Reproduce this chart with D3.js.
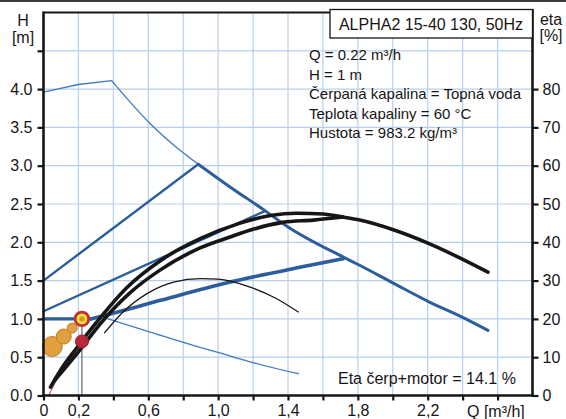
<!DOCTYPE html>
<html><head><meta charset="utf-8">
<script src="https://cdn.jsdelivr.net/npm/d3@7"></script>
<style>body{margin:0;background:#fff}svg{display:block;font-family:"Liberation Sans",Arial,sans-serif}</style>
</head><body><svg id="c" width="566" height="419"></svg>
<script>
// ---- data (Q in m3/h, H in m, eta in %) ----
const qGridTicks = [0.2,0.4,0.6,0.8,1.0,1.2,1.4,1.6,1.8,2.0,2.2,2.4,2.6];
const qAxisTicks = [0,0.2,0.4,0.6,0.8,1.0,1.2,1.4,1.6,1.8,2.0,2.2,2.4,2.6];
const qLabelled = [0,0.2,0.6,1.0,1.4,1.8,2.2];
const hTicks = [0,0.5,1,1.5,2,2.5,3,3.5,4,4.5];
const hLabelled = [0,0.5,1,1.5,2,2.5,3,3.5,4];
const etaTicks = [0,10,20,30,40,50,60,70,80];

const maxFlat = [[0,3.96],[0.2,4.06],[0.39,4.11]];
const maxThin = [[0.39,4.11],[0.5,3.82],[0.61,3.55],[0.75,3.26],[0.886,3.02]];
const maxThick = [[0.886,3.02],[1.07,2.72],[1.27,2.41],[1.4,2.2],[1.714,1.81],[1.81,1.70],[2.0,1.47],[2.21,1.22],[2.4,1.02],[2.545,0.85]];
const ppHigh = [[0,1.5],[0.886,3.02]];
const ppMid = [[0,1.1],[1.27,2.41]];
const setFlat = [[0,1.0],[0.27,1.0]];
const setCurve = [[0.27,1.0],[0.4,1.075],[0.669,1.242],[1.069,1.481],[1.526,1.699],[1.716,1.787]];
const minCurve = [[0.37,1.0],[0.611,0.827],[0.897,0.627],[0.993,0.566],[1.2,0.43],[1.459,0.284]];
const blackA = [[0.04,0.11],[0.1,0.34],[0.183,0.6],[0.316,0.99],[0.478,1.41],[0.669,1.76],[0.9,2.05],[1.126,2.25],[1.3,2.35],[1.45,2.38],[1.6,2.37],[1.714,2.33],[1.811,2.29],[2.011,2.157],[2.211,1.98],[2.545,1.61]];
const blackB = [[0.065,0.2],[0.2,0.57],[0.33,0.95],[0.49,1.33],[0.669,1.64],[0.9,1.93],[1.069,2.07],[1.2,2.17],[1.371,2.26],[1.545,2.29],[1.714,2.33]];
const blackC = [[0.35,0.82],[0.46,1.1],[0.593,1.33],[0.745,1.48],[0.9,1.525],[1.0,1.52],[1.183,1.416],[1.33,1.27],[1.459,1.09]];
const redEta = [[0.03,0],[0.08,0.22],[0.155,0.46],[0.22,0.705]];
const bubbleQ = [0.05,0.116,0.164];
const bubbleH = [0.64,0.77,0.88];
const bubbleR = [10,7.5,5];
const opQ = 0.22, opH = 1.0, opEta = 14.1;
const title = "ALPHA2 15-40 130, 50Hz";
const infoLines = ["Q = 0.22 m³/h","H = 1 m","Čerpaná kapalina = Topná voda","Teplota kapaliny = 60 °C","Hustota = 983.2 kg/m³"];
const etaText = "Eta čerp+motor = 14.1 %";

// ---- drawing ----
const svg = d3.select("#c");
const x = d3.scaleLinear().domain([0,2.8]).range([43.5,532.5]);
const y = d3.scaleLinear().domain([0,5]).range([395.5,12.5]);
const ye = d3.scaleLinear().domain([0,100]).range([395.5,12.5]);
const blue = "#2c5d9c", lblue = "#3f7cc0", grid = "#b7d0ea", ink = "#161616";

svg.append("rect").attr("width",566).attr("height",419).attr("fill","#fff");
svg.append("rect").attr("x",0).attr("y",0).attr("width",566).attr("height",2).attr("fill","#3a3a3a");

// grid
svg.append("g").selectAll("line").data(qGridTicks).join("line")
  .attr("x1",d=>x(d)).attr("x2",d=>x(d)).attr("y1",y(5)).attr("y2",y(0))
  .attr("stroke",grid).attr("stroke-width",1.2);
svg.append("g").selectAll("line").data(hTicks.filter(d=>d>0)).join("line")
  .attr("x1",x(0)).attr("x2",x(2.8)).attr("y1",d=>y(d)).attr("y2",d=>y(d))
  .attr("stroke",grid).attr("stroke-width",1.2);

const line = d3.line().x(d=>x(d[0])).y(d=>y(d[1]));
const smooth = d3.line().x(d=>x(d[0])).y(d=>y(d[1])).curve(d3.curveMonotoneX);
function path(data, gen, color, w){
  svg.append("path").datum(data).attr("d",gen).attr("fill","none")
    .attr("stroke",color).attr("stroke-width",w).attr("stroke-linecap","round").attr("stroke-linejoin","round");
}

// blue curves
path(maxFlat, line, lblue, 1.3);
path(maxThin, smooth, lblue, 1.3);
path(minCurve, smooth, lblue, 1.3);
path(ppHigh, line, blue, 2.4);
path(ppMid, line, blue, 2.4);
path(setFlat, line, blue, 3.2);
path(setCurve, smooth, blue, 3.6);
path(maxThick, smooth, blue, 3);

// vertical operating line
svg.append("line").attr("x1",x(opQ)).attr("x2",x(opQ)).attr("y1",y(opH)).attr("y2",y(0))
  .attr("stroke","#444").attr("stroke-width",1);

// black curves
path(blackC, smooth, ink, 1.3);
path(redEta, smooth, "#c0303a", 1);
path(blackB, smooth, ink, 3.6);
path(blackA, smooth, ink, 3.6);

// bubbles
svg.append("g").selectAll("circle").data(bubbleQ).join("circle")
  .attr("cx",d=>x(d)).attr("cy",(d,i)=>y(bubbleH[i])).attr("r",(d,i)=>bubbleR[i])
  .attr("fill","#e0a040").attr("stroke","#c57a28").attr("stroke-width",1);
// eta point
svg.append("circle").attr("cx",x(opQ)).attr("cy",ye(opEta)).attr("r",6.5)
  .attr("fill","#b8283a").attr("stroke","#9a1f2d").attr("stroke-width",1);
// operating point
svg.append("circle").attr("cx",x(opQ)).attr("cy",y(opH)).attr("r",6.8)
  .attr("fill","#f2e23a").attr("stroke","#c0303a").attr("stroke-width",2.8);
svg.append("circle").attr("cx",x(opQ)).attr("cy",y(opH)).attr("r",2.6).attr("fill","#d9902e");

// frame / axes
const axW = 2.6;
svg.append("line").attr("x1",x(0)).attr("x2",x(2.8)).attr("y1",y(5)).attr("y2",y(5)).attr("stroke",ink).attr("stroke-width",2);
const gL = svg.append("g").attr("transform",`translate(${x(0)},0)`)
  .call(d3.axisLeft(y).tickValues(hTicks).tickSize(6).tickPadding(5)
    .tickFormat(d=>hLabelled.includes(d)?d3.format(".1f")(d):""));
const gB = svg.append("g").attr("transform",`translate(0,${y(0)})`)
  .call(d3.axisBottom(x).tickValues(qAxisTicks).tickSize(5).tickPadding(4)
    .tickFormat(d=>qLabelled.includes(+d.toFixed(1))?(d===0?"0":d3.format(".1f")(d).replace(".",",")):""));
const gR = svg.append("g").attr("transform",`translate(${x(2.8)},0)`)
  .call(d3.axisRight(ye).tickValues(etaTicks).tickSize(6).tickPadding(4).tickFormat(d3.format("d")));
for (const g of [gL,gB,gR]){
  g.select(".domain").remove();
  g.selectAll(".tick line").attr("stroke",ink).attr("stroke-width",2.2);
  g.selectAll(".tick text").attr("fill",ink).attr("font-size",16).attr("font-family","Liberation Sans, Arial, sans-serif");
}
svg.append("line").attr("x1",x(0)).attr("x2",x(0)).attr("y1",y(5)-1).attr("y2",y(0)+1).attr("stroke",ink).attr("stroke-width",axW);
svg.append("line").attr("x1",x(2.8)).attr("x2",x(2.8)).attr("y1",9).attr("y2",y(0)+1).attr("stroke",ink).attr("stroke-width",axW);
svg.append("line").attr("x1",x(0)-1).attr("x2",x(2.8)+1).attr("y1",y(0)).attr("y2",y(0)).attr("stroke",ink).attr("stroke-width",axW);

// axis titles
const t = (tx,ty,s,anchor,size)=>svg.append("text").attr("x",tx).attr("y",ty).attr("text-anchor",anchor||"start")
  .attr("font-size",size||16).attr("fill",ink).text(s);
t(23,26,"H","middle");
t(23,43,"[m]","middle");
t(551,25,"eta","middle");
t(551,41,"[%]","middle");
t(467,417,"Q [m³/h]","start");

// title box
svg.append("rect").attr("x",330).attr("y",9.5).attr("width",x(2.8)-330).attr("height",28.5)
  .attr("fill","#fff").attr("stroke",ink).attr("stroke-width",1.3);
t(431,30,title,"middle",16);
infoLines.forEach((s,i)=>t(309,60+i*19.6,s,"start",15));
t(338,384,etaText,"start",16);
</script></body></html>
